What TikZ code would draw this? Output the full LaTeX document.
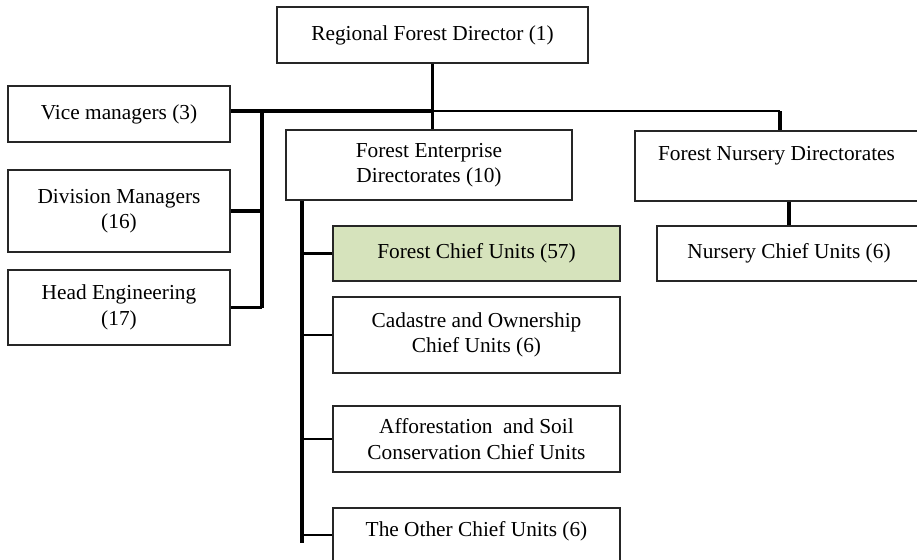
\documentclass[tikz,border=0pt]{standalone}
\usepackage{fontspec}
\setmainfont{Liberation Serif}
\usepackage{tikz}
\usetikzlibrary{calc}
\definecolor{unitgreen}{RGB}{214,227,188}

\begin{document}
\begin{tikzpicture}[x=0.75pt,y=-0.75pt,
    box/.style={draw=black!85,line width=1.1pt,rectangle,inner sep=0pt,align=center,
      font=\fontsize{16}{19}\selectfont},
    conn/.style={line width=2.6pt},
    connmid/.style={line width=2.1pt},
    connthin/.style={line width=1.6pt}]
  \useasboundingbox (0,0) rectangle (917,560); % 図全体の範囲
  \node[box,minimum width=233.25pt,minimum height=42pt] (dir) at (432.5,35) {Regional Forest Director (1)}; % 最上位の局長
  \node[box,minimum width=166.5pt,minimum height=42pt] (vice) at (119,114) {Vice managers (3)}; % 副局長
  \node[box,minimum width=166.5pt,minimum height=61.5pt] (div) at (119,211) {Division Managers\\(16)}; % 課長
  \node[box,minimum width=166.5pt,minimum height=56.25pt] (head) at (119,307.5) {Head Engineering\\(17)}; % 主任技師
  \node[box,minimum width=214.5pt,minimum height=52.5pt] (ent) at (429,165) {Forest Enterprise\\Directorates (10)}; % 森林経営局
  \node[box,minimum width=212.25pt,minimum height=52.5pt] (nur) at (776.5,166) {Forest Nursery Directorates\\\phantom{X}}; % 苗畑局
  \node[box,minimum width=198pt,minimum height=41.25pt] (nurc) at (789,253.5) {Nursery Chief Units (6)}; % 苗畑主任単位
  \node[box,fill=unitgreen,minimum width=215.25pt,minimum height=41.25pt] (fcu) at (476.5,253.5) {Forest Chief Units (57)}; % 森林主任単位（緑）
  \node[box,minimum width=215.25pt,minimum height=57pt] (cad) at (476.5,335) {Cadastre and Ownership\\Chief Units (6)}; % 地籍・所有
  \node[box,minimum width=215.25pt,minimum height=49.5pt] (aff) at (476.5,439) {Afforestation\ \ and Soil\\Conservation\ Chief Units}; % 植林・土壌保全
  \node[box,minimum width=215.25pt,minimum height=50.25pt] (oth) at (476.5,541.5) {The Other Chief Units (6)\\\phantom{X}}; % その他
  \coordinate (busL) at (262,111); % 左側の縦線の上端
  \coordinate (busR) at (780,111); % 右側の横線の端
  \coordinate (spE) at (302,543); % 経営局の縦線の下端
  \draw[conn] (dir.south) -- (dir.south |- ent.north); % 局長から経営局への縦線
  \draw[conn] (vice.east |- busL) -- (dir.south |- busL); % 横線（左半分）
  \draw[connmid] (dir.south |- busR) -- (busR); % 横線（右半分）
  \draw[conn] (busR) -- (busR |- nur.north); % 苗畑局への縦線
  \draw[conn] (busL) -- (busL |- head.east); % 左側の縦線
  \draw[conn] (div.east) -- (div.east -| busL); % 課長への横線
  \draw[connthin] (head.east) -- (head.east -| busL); % 主任技師への横線
  \draw[conn] (nurc.north) -- (nurc.north |- nur.south); % 苗畑主任単位への縦線
  \draw[conn] (spE |- ent.south) -- (spE); % 経営局の縦線
  \draw[connmid] (fcu.west) -- (fcu.west -| spE); % 1つ目の枝
  \draw[connmid] (cad.west) -- (cad.west -| spE); % 2つ目の枝
  \draw[connmid] (aff.west) -- (aff.west -| spE); % 3つ目の枝
  \draw[connmid] ([yshift=4.9pt]oth.west) -- ([yshift=4.9pt]oth.west -| spE); % 4つ目の枝
\end{tikzpicture}
\end{document}
